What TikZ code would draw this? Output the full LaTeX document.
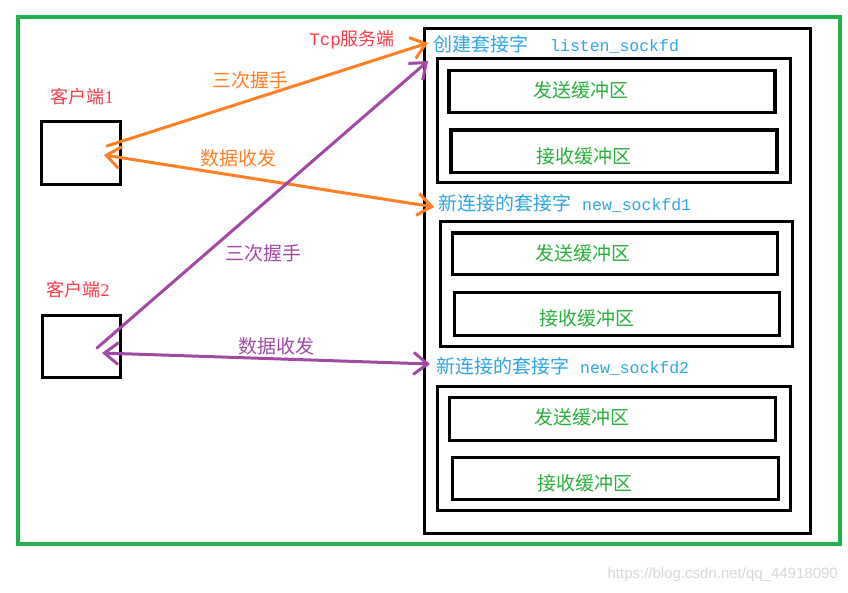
\documentclass[tikz,border=0pt]{standalone}
\usepackage{fontspec}
\setmainfont{Liberation Serif}
\newfontfamily\cjk{Noto Sans CJK SC}
\newfontfamily\monof{Liberation Mono}
\newfontfamily\wmf{Liberation Sans}
\usetikzlibrary{arrows.meta}
\definecolor{frameg}{RGB}{34,177,76}
\definecolor{ora}{RGB}{255,127,39}
\definecolor{pur}{RGB}{163,73,164}
\definecolor{lblue}{RGB}{45,165,230}
\definecolor{txtg}{RGB}{40,175,60}
\definecolor{cred}{RGB}{250,60,70}
\definecolor{wmark}{RGB}{215,215,215}
\begin{document}
\begin{tikzpicture}[x=1pt,y=-1pt,
  blk/.style={draw=black,line width=3pt,inner sep=0pt,anchor=north west},
  buftxt/.style={text=txtg,font=\cjk\fontsize{19}{19}\selectfont,inner sep=0pt},
  socklbl/.style={text=lblue,font=\cjk\fontsize{19}{19}\selectfont,inner sep=0pt,anchor=west},
  clbl/.style={text=cred,font=\cjk\fontsize{18}{18}\selectfont,inner sep=0pt},
  olbl/.style={text=ora,font=\cjk\fontsize{19}{19}\selectfont,inner sep=0pt},
  plbl/.style={text=pur,font=\cjk\fontsize{19}{19}\selectfont,inner sep=0pt},
  arr/.style={line width=3pt,line cap=round,arrows={-Straight Barb[length=14pt,width=22pt,line width=3pt]}},
  darr/.style={line width=3pt,line cap=round,arrows={Straight Barb[length=14pt,width=22pt,line width=3pt]-Straight Barb[length=14pt,width=22pt,line width=3pt]}}
]
\useasboundingbox (0,0) rectangle (848,593);
% green frame
\node[draw=frameg,line width=4pt,inner sep=0pt,anchor=north west,minimum width=822.5pt,minimum height=526.5pt] (frame) at (15.5,15.5) {};
% server box
\node[blk,minimum width=386pt,minimum height=504.5pt] (srv) at (422.5,27) {};
% listen socket
\node[socklbl] (l0) at (433,44) {创建套接字\hspace{22pt}{\monof\fontsize{16.5}{16}\selectfont listen\_sockfd}};
\node[blk,minimum width=353pt,minimum height=124pt] (s0) at (435.5,57.5) {};
\node[blk,line width=3.5pt,minimum width=326pt,minimum height=42pt] (s0a) at (447,69) {};
\node[blk,line width=3.5pt,minimum width=326pt,minimum height=42.5pt] (s0b) at (449,128.5) {};
\node[buftxt] (t0a) at (581,90) {发送缓冲区};
\node[buftxt] (t0b) at (584,156) {接收缓冲区};
% new socket 1
\node[socklbl] (l1) at (438,203) {新连接的套接字\hspace{11pt}{\monof\fontsize{16.5}{16}\selectfont new\_sockfd1}};
\node[blk,minimum width=352pt,minimum height=124.5pt] (s1) at (439,220.5) {};
\node[blk,line width=3.5pt,minimum width=325pt,minimum height=41.5pt] (s1a) at (450.5,231.5) {};
\node[blk,line width=3.5pt,minimum width=325pt,minimum height=42.5pt] (s1b) at (452.5,291) {};
\node[buftxt] (t1a) at (583,253) {发送缓冲区};
\node[buftxt] (t1b) at (587,318) {接收缓冲区};
% new socket 2
\node[socklbl] (l2) at (436,366) {新连接的套接字\hspace{11pt}{\monof\fontsize{16.5}{16}\selectfont new\_sockfd2}};
\node[blk,minimum width=353pt,minimum height=124pt] (s2) at (435.5,384.5) {};
\node[blk,line width=3.5pt,minimum width=326pt,minimum height=43pt] (s2a) at (447.5,395.5) {};
\node[blk,line width=3.5pt,minimum width=326pt,minimum height=42pt] (s2b) at (450.5,455.5) {};
\node[buftxt] (t2a) at (582,417) {发送缓冲区};
\node[buftxt] (t2b) at (585,483) {接收缓冲区};
% clients
\node[blk,minimum width=79pt,minimum height=63pt] (c1) at (39.5,120) {};
\node[blk,minimum width=78pt,minimum height=61.5pt] (c2) at (40.5,314) {};
\node[clbl] (c1l) at (82,97) {客户端{\rmfamily 1}};
\node[clbl] (c2l) at (78,290) {客户端{\rmfamily 2}};
% labels on connectors
\node[text=cred,font=\cjk\fontsize{18}{18}\selectfont,inner sep=0pt] (tcp) at (352,40) {{\monof\fontsize{17.5}{17}\selectfont Tcp}服务端};
\node[olbl] (o1) at (250,80) {三次握手};
\node[olbl] (o2) at (238,158) {数据收发};
\node[plbl] (p1) at (263,253) {三次握手};
\node[plbl] (p2) at (276,346) {数据收发};
% connector end points
\coordinate (c1h) at (107,146);
\coordinate (c1d) at (104,155);
\coordinate (c2h) at (97,348);
\coordinate (c2d) at (102,353);
\coordinate (l0o) at (428,43);
\coordinate (l0p) at (428,61);
\coordinate (l1o) at (434,207);
\coordinate (l2p) at (430,364);
% connectors
\draw[arr,ora] (c1h) -- (l0o);
\draw[darr,ora] (c1d) -- (l1o);
\draw[arr,pur] (c2h) -- (l0p);
\draw[darr,pur] (c2d) -- (l2p);
% watermark
\node[text=wmark,font=\wmf\fontsize{15}{15}\selectfont,inner sep=0pt,anchor=east] (wm) at (838,575) {https://blog.csdn.net/qq\_44918090};
\end{tikzpicture}
\end{document}
